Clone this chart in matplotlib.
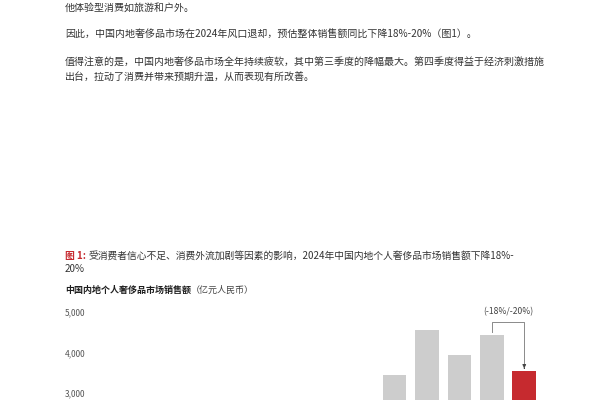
import matplotlib
matplotlib.use("Agg")
import matplotlib.pyplot as plt

plt.rcParams['font.family'] = ['Noto Sans CJK SC', 'DejaVu Sans']

# data (亿元人民币)
years = ["2020", "2021", "2022", "2023", "2024E"]
sales = [3440, 4555, 3950, 4430, 3545]
bar_colors = ["#cdcdcd", "#cdcdcd", "#cdcdcd", "#cdcdcd", "#c62a2f"]
y_ticks = [3000, 4000, 5000]
change_label = "(-18%/-20%)"

body_lines = [
    "他体验型消费如旅游和户外。",
    "因此，中国内地奢侈品市场在2024年风口退却，预估整体销售额同比下降18%-20%（图1）。",
    "值得注意的是，中国内地奢侈品市场全年持续疲软，其中第三季度的降幅最大。第四季度得益于经济刺激措施",
    "出台，拉动了消费并带来预期升温，从而表现有所改善。",
]
body_y = [7.5, 34.5, 62, 77.5]
caption_head = "图 1: "
caption_1 = "受消费者信心不足、消费外流加剧等因素的影响，2024年中国内地个人奢侈品市场销售额下降18%-"
caption_2 = "20%"
subtitle_bold = "中国内地个人奢侈品市场销售额"
subtitle_unit = "（亿元人民币）"

W, H = 600, 400
fig = plt.figure(figsize=(W / 100, H / 100), dpi=100)
fig.patch.set_facecolor("white")


def fx(x):
    return x / W


def fy(y):
    return 1 - y / H


left = 65
for line, y in zip(body_lines, body_y):
    fig.text(fx(left), fy(y), line, fontsize=7.2, color="#333333", va="center", ha="left")

# caption with red head
fig.canvas.draw()
r = fig.canvas.get_renderer()
t = fig.text(fx(left), fy(255.5), caption_head, fontsize=7.05, color="#c62a2f",
             fontweight="bold", va="center", ha="left")
bb = t.get_window_extent(renderer=r)
fig.text(bb.x1 / W, fy(255.5), caption_1, fontsize=7.05, color="#333333", va="center", ha="left")
fig.text(fx(left), fy(269.5), caption_2, fontsize=7.05, color="#333333", va="center", ha="left")

t = fig.text(fx(left), fy(290), subtitle_bold, fontsize=6.5, color="#1e1e1e",
             fontweight="bold", va="center", ha="left")
bb = t.get_window_extent(renderer=r)
fig.text(bb.x1 / W, fy(290), subtitle_unit, fontsize=6.5, color="#444444", va="center", ha="left")

# axes: 5,000 sits at y=312.3px, 1,000 per 40.2px
ax_left, ax_right = 88, 545
px_per_k = 40.2
ax_h = 5 * px_per_k
ax_top = 312.3
ax = fig.add_axes([fx(ax_left), fy(ax_top + ax_h), (ax_right - ax_left) / W, ax_h / H])

x = list(range(len(years)))
ax.bar(x, sales, width=0.73, color=bar_colors)
ax.set_ylim(0, 5000)
ax.set_xlim(-9.46, 4.64)
ax.set_yticks(y_ticks)
ax.set_yticklabels([f"{v:,}" for v in y_ticks])
ax.set_xticks([])
ax.tick_params(axis="y", length=0, pad=2, labelsize=6, labelcolor="#555555")
for s in ax.spines.values():
    s.set_visible(False)

# bracket from 2023 bar to 2024 bar
top = sales[3] + 330
ax.plot([x[3], x[3], x[4], x[4]], [sales[3] + 80, top, top, sales[4] + 120],
        color="#8a8a8a", lw=0.7, clip_on=False)
ax.annotate("", xy=(x[4], sales[4] + 60), xytext=(x[4], sales[4] + 130),
            arrowprops=dict(arrowstyle="-|>", color="#444444", lw=0.7,
                            mutation_scale=5), annotation_clip=False)
ax.text((x[3] + x[4]) / 2, top + 250, change_label, ha="center", va="center",
        fontsize=6.2, color="#444444", clip_on=False)

fig.savefig("out.png", dpi=100)
